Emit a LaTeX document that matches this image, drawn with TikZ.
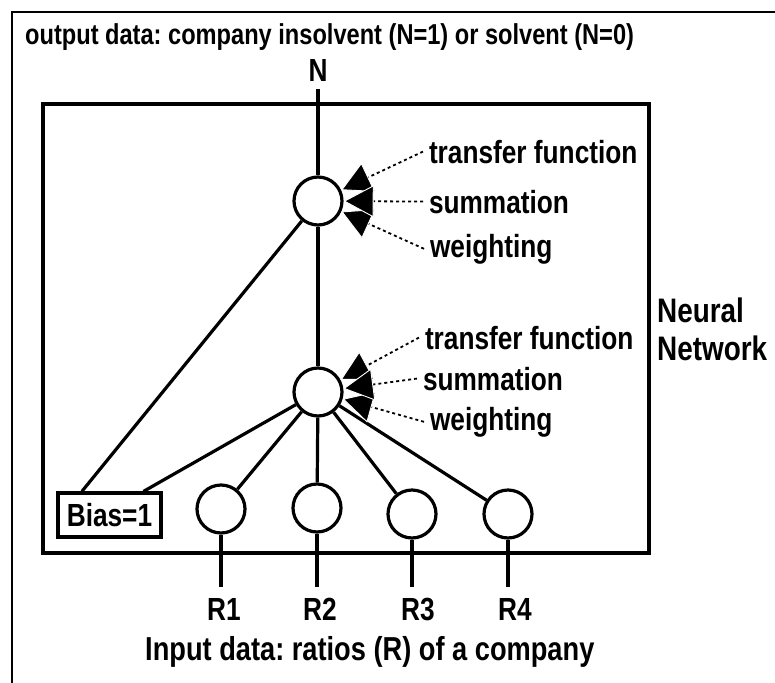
\documentclass[tikz,border=0pt]{standalone}
\usepackage{fontspec}
\setmainfont{Liberation Sans}[FakeStretch=0.82]
\frenchspacing
\usetikzlibrary{arrows.meta,calc}
\begin{document}
\begin{tikzpicture}[x=1pt,y=-1pt,
  txt/.style={inner sep=0pt, font=\fontsize{32}{36}\selectfont\bfseries},
  lbl/.style={txt, anchor=base west, outer xsep=6pt},
  neuron/.style={circle, draw, line width=3.2pt, minimum size=48pt, inner sep=0pt, fill=white},
  conn/.style={line width=3.2pt},
  pointer/.style={line width=1.8pt, dash pattern=on 3pt off 3pt,
    -{Triangle[length=30pt,width=32pt,fill=black,color=white,line width=0.9pt]}},
]
\useasboundingbox (0,0) rectangle (775,682);
% outer frame (partly cut off)
\draw[line width=2.2pt] (12,690) -- (12,12) -- (790,12);
% title
\node[txt, anchor=base west, font=\fontsize{28.8}{34}\selectfont\bfseries] (title) at (25,45)
  {output data: company insolvent (N=1) or solvent (N=0)};
\node[txt, anchor=base, outer ysep=7pt] (N) at (318,82) {N};
% neural network box
\draw[line width=3.6pt] (43,104) rectangle (649,553);
\node[txt, anchor=base west, font=\fontsize{34}{38}\selectfont\bfseries] (nn1) at (657,322) {Neural};
\node[txt, anchor=base west, font=\fontsize{34}{38}\selectfont\bfseries] (nn2) at (657,360) {Network};
% neurons
\node[neuron] (out) at (318,201) {};
\node[neuron] (hid) at (318,392) {};
\node[neuron] (i1) at (221,509) {};
\node[neuron] (i2) at (317,508) {};
\node[neuron] (i3) at (412,514) {};
\node[neuron] (i4) at (508,514) {};
\node[txt, draw, line width=3.2pt, minimum width=103pt, minimum height=44pt] (bias) at (109.5,515) {Bias=1};
% input labels
\node[txt, anchor=base] (r1) at (224,620) {R1};
\node[txt, anchor=base] (r2) at (320,620) {R2};
\node[txt, anchor=base] (r3) at (418,620) {R3};
\node[txt, anchor=base] (r4) at (515,620) {R4};
\coordinate (e1) at (221,587);
\coordinate (e2) at (317,587);
\coordinate (e3) at (412,587);
\coordinate (e4) at (508,587);
\node[txt, anchor=base west, font=\fontsize{33.2}{37}\selectfont\bfseries] (inp) at (145,660) {Input data: ratios (R) of a company};
% connections
\draw[conn] (N.south) -- (out);
\draw[conn] (out) -- (hid);
\draw[conn] (out) -- ($(bias.north west)!0.24!(bias.north east)$);
\draw[conn] (hid) -- ($(bias.north west)!0.82!(bias.north east)$);
\draw[conn] (hid) -- (i1);
\draw[conn] (hid) -- (i2);
\draw[conn] (hid) -- (i3);
\draw[conn] (hid) -- (i4);
\draw[conn] (i1) -- (e1);
\draw[conn] (i2) -- (e2);
\draw[conn] (i3) -- (e3);
\draw[conn] (i4) -- (e4);
% labels with pointers
\node[lbl] (tf1) at (423,163) {transfer function};
\node[lbl] (sm1) at (423,213) {summation};
\node[lbl] (wt1) at (424,257) {weighting};
\node[lbl] (tf2) at (419,349) {transfer function};
\node[lbl] (sm2) at (417,390) {summation};
\node[lbl] (wt2) at (424,430) {weighting};
\draw[pointer] (tf1.west) -- (out);
\draw[pointer] (wt1.west) -- (out);
\draw[pointer] (sm1.west) -- (out);
\draw[pointer] (tf2.west) -- (hid);
\draw[pointer] (wt2.west) -- (hid);
\draw[pointer] (sm2.west) -- (hid);
\end{tikzpicture}
\end{document}
